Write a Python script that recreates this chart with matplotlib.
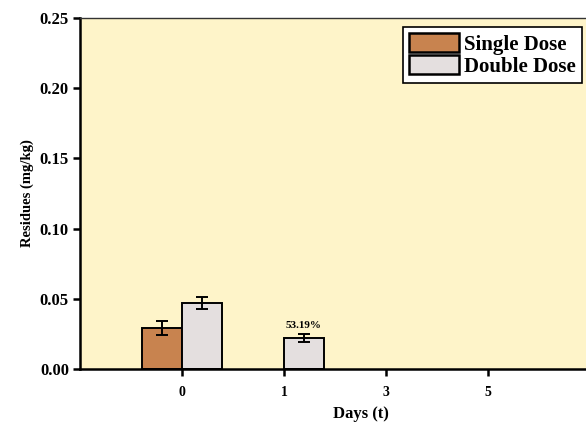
import matplotlib
matplotlib.use('Agg')
import matplotlib.pyplot as plt
import numpy as np

# ── data ──────────────────────────────────────────────────────────────────
days        = ["0", "1", "3", "5", "7"]
single_dose = [0.029, 0, 0, 0, 0]
single_err  = [0.005, 0, 0, 0, 0]
double_dose = [0.047, 0.022, 0, 0, 0]
double_err  = [0.004, 0.003, 0, 0, 0]
dissipation = {1: "53.19%"}

plt.rcParams['font.family'] = ['Liberation Serif', 'DejaVu Serif']
plt.rcParams['font.weight'] = 'bold'

fig = plt.figure(figsize=(5.86, 4.23), dpi=100)
ax = fig.add_axes([80/586, (423-369)/423, 561/586, (369-18)/423])
ax.set_facecolor('#FEF4C9')

x = np.arange(len(days))
w = 0.39
# zero values (not detected) are left out so no flat outline is drawn
s_vals = [v if v > 0 else np.nan for v in single_dose]
d_vals = [v if v > 0 else np.nan for v in double_dose]
ax.bar(x - w/2, s_vals, w, color='#C8834F', edgecolor='black', lw=1.4,
       label='Single Dose')
ax.bar(x + w/2, d_vals, w, color='#E4DFDF', edgecolor='black', lw=1.4,
       label='Double Dose')
for i in range(len(days)):
    if single_dose[i] > 0:
        ax.errorbar(x[i] - w/2, single_dose[i], yerr=single_err[i], fmt='none',
                    ecolor='black', elinewidth=1.4, capsize=4, capthick=1.4)
    if double_dose[i] > 0:
        ax.errorbar(x[i] + w/2, double_dose[i], yerr=double_err[i], fmt='none',
                    ecolor='black', elinewidth=1.4, capsize=4, capthick=1.4)
for i, txt in dissipation.items():
    ax.text(x[i] + w/2, double_dose[i] + double_err[i] + 0.003, txt,
            ha='center', va='bottom', fontsize=8, fontweight='bold')

ax.set_xlim(-1, 4.5)
ax.set_ylim(0, 0.25)
ax.set_xticks(x)
ax.set_xticklabels(days)
ax.set_yticks(np.arange(0, 0.251, 0.05))
ax.set_yticklabels([f"{v:.2f}" for v in np.arange(0, 0.251, 0.05)])
ax.tick_params(axis='both', direction='out', length=5, width=1.8)
ax.tick_params(axis='y', labelsize=12, pad=3)
ax.tick_params(axis='x', labelsize=10, pad=7)
ax.spines['right'].set_visible(False)
ax.spines['top'].set_linewidth(1.0)
ax.spines['top'].set_color('#333333')
for s in ['left', 'bottom']:
    ax.spines[s].set_linewidth(1.8)

ax.set_ylabel("Residues (mg/kg)", fontsize=10.5, fontweight='bold', labelpad=4)
ax.set_xlabel("Days (t)", fontsize=12, fontweight='bold', labelpad=5)

leg = ax.legend(loc='upper right', bbox_to_anchor=(582/586, 1 - 27/423),
                bbox_transform=fig.transFigure, fancybox=False, edgecolor='black',
                framealpha=1, prop={'weight': 'bold', 'size': 15},
                handlelength=2.4, handleheight=1.0,
                borderpad=0.3, labelspacing=0.02, handletextpad=0.25,
                borderaxespad=0)
leg.get_frame().set_linewidth(1.2)
for h in leg.legend_handles:
    h.set_linewidth(1.8)

fig.savefig("out.png", dpi=100)
